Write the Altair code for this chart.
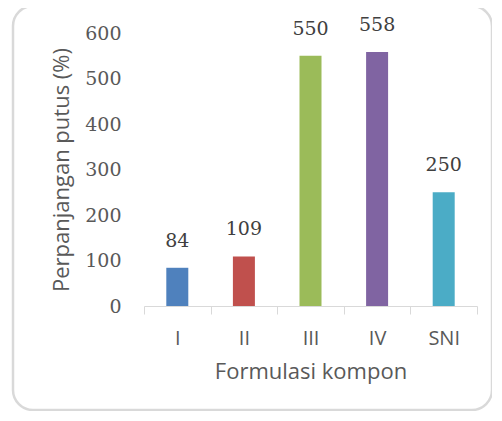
import altair as alt
import pandas as pd

categories = ["I", "II", "III", "IV", "SNI"]
values = [84, 109, 550, 558, 250]
colors = ["#4F81BD", "#C0504D", "#9BBB59", "#8064A2", "#4BACC6"]
y_ticks = [0, 100, 200, 300, 400, 500, 600]

df = pd.DataFrame({"cat": categories, "val": values, "color": colors})

W, H = 333, 273

x_enc = alt.X(
    "cat:N",
    sort=categories,
    scale=alt.Scale(paddingInner=0, paddingOuter=0),
    axis=alt.Axis(
        title="Formulasi kompon",
        labelAngle=0,
        tickBand="extent",
        domainColor="#d9d9d9",
        tickColor="#d9d9d9",
        tickSize=8,
        labelPadding=14,
        labelFont="Open Sans",
        labelFontSize=20,
        labelColor="#595959",
        titleFont="Open Sans",
        titleFontSize=22,
        titleFontWeight="normal",
        titleColor="#595959",
        titlePadding=13,
    ),
)
y_enc = alt.Y(
    "val:Q",
    scale=alt.Scale(domain=[0, 600], nice=False),
    axis=alt.Axis(
        title="Perpanjangan putus (%)",
        values=y_ticks,
        domain=False,
        ticks=False,
        grid=False,
        labelPadding=23,
        labelFont="DejaVu Serif",
        labelFontSize=19,
        labelColor="#595959",
        titleFont="Open Sans",
        titleFontSize=22,
        titleFontWeight="normal",
        titleColor="#595959",
        titlePadding=11,
    ),
)

border = alt.Chart(pd.DataFrame({"a": [0]})).mark_rect(
    filled=False, stroke="#d9d9d9", strokeWidth=2.5, cornerRadius=20, clip=False
).encode(
    x=alt.value(-131), x2=alt.value(348), y=alt.value(-27), y2=alt.value(377)
)

bars = alt.Chart(df).mark_bar(size=22).encode(
    x=x_enc,
    y=y_enc,
    color=alt.Color("color:N", scale=None),
)

labels = alt.Chart(df).mark_text(
    baseline="bottom", dy=-17, font="DejaVu Serif", fontSize=19, color="#404040"
).encode(
    x=alt.X("cat:N", sort=categories),
    y="val:Q",
    text="val:Q",
)

chart = alt.layer(border, bars, labels).properties(
    width=W,
    height=H,
    autosize="none",
    padding={"left": 136, "top": 25, "right": 15, "bottom": 105},
    background="white",
).configure_view(stroke=None)

chart.save("out.html", embed_options={"renderer": "svg", "actions": False})
